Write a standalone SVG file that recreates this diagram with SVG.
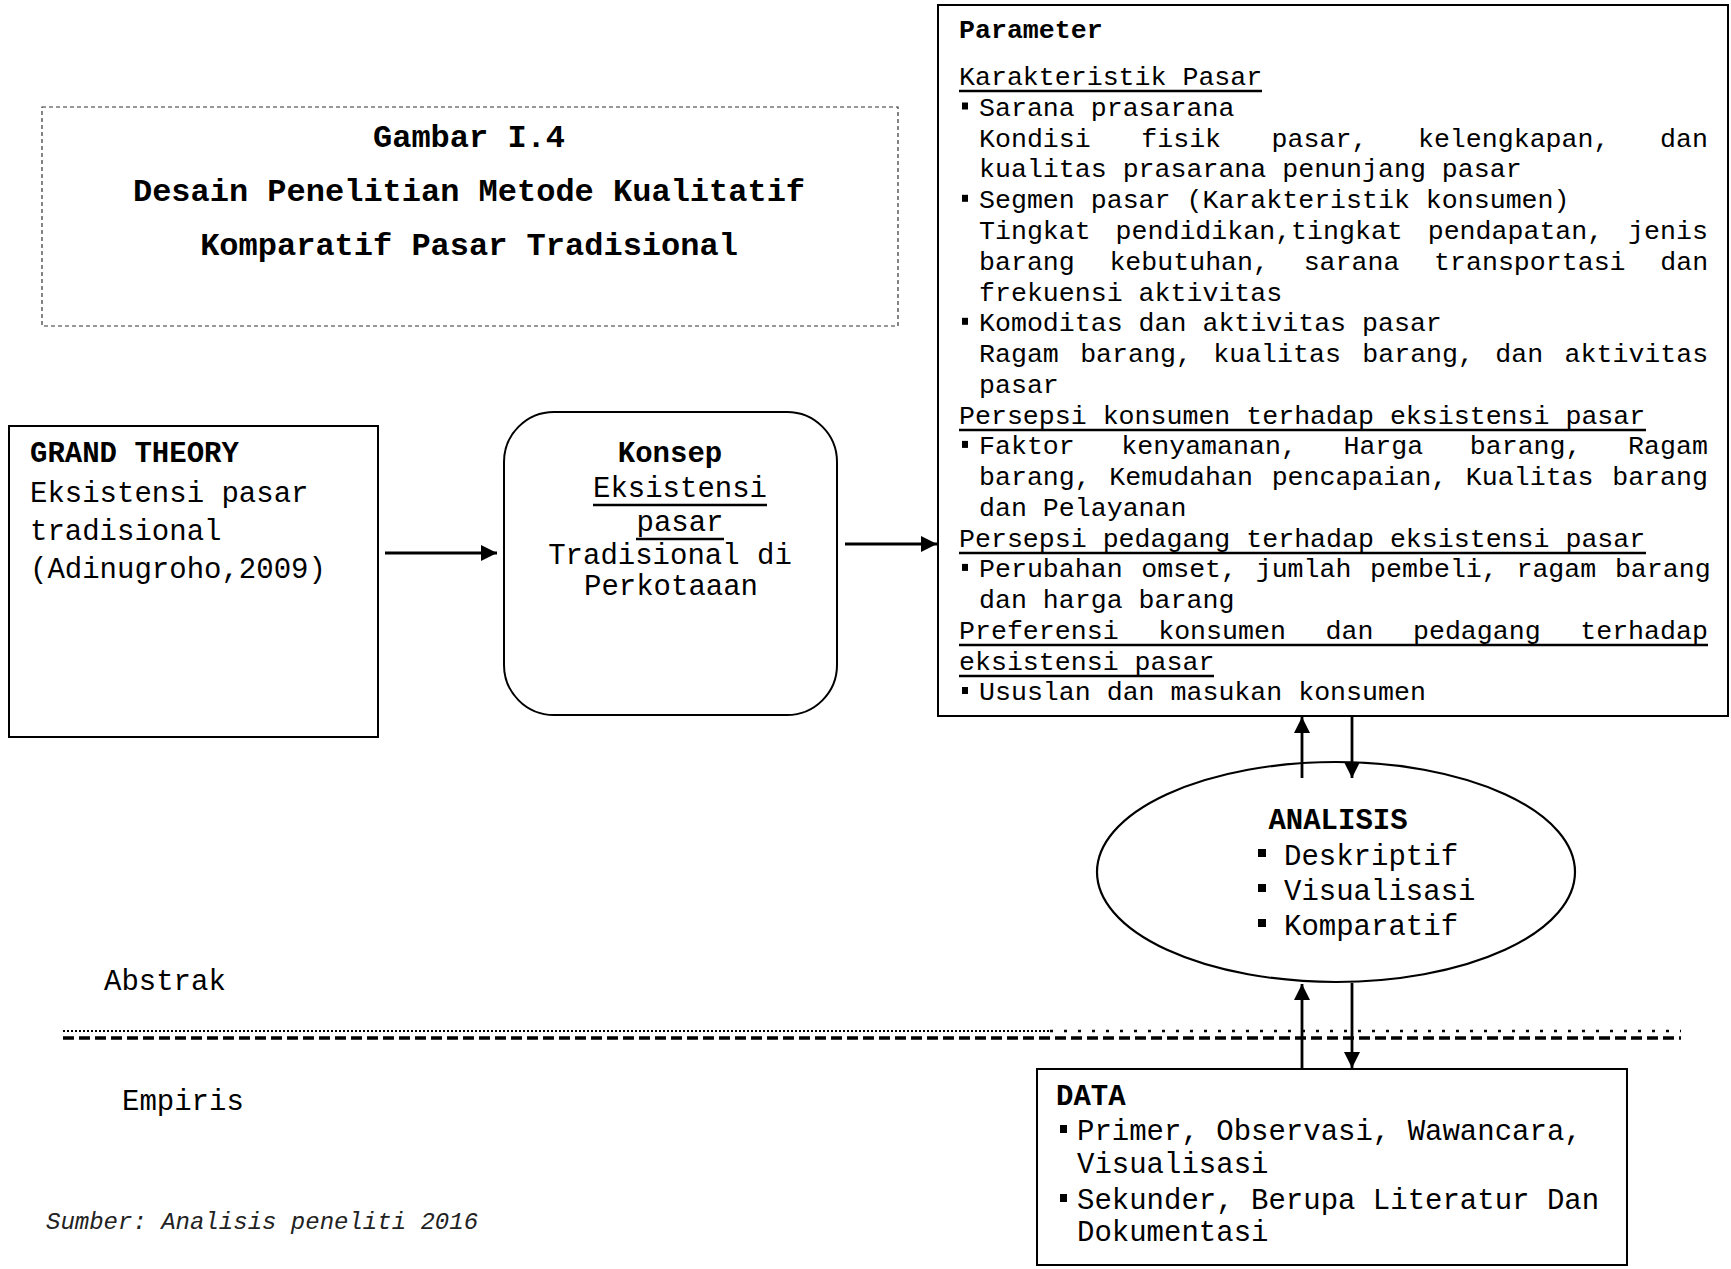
<svg xmlns="http://www.w3.org/2000/svg" width="1731" height="1269" viewBox="0 0 1731 1269">
  <style>
    text { font-family: "Liberation Mono", "Courier New", monospace; fill: #000; }
    .t32 { font-size: 32px; font-weight: bold; }
    .t29 { font-size: 29px; }
    .p { font-size: 26.6px; }
    .b { font-weight: bold; }
    .mid { text-anchor: middle; }
    .it { font-size: 24px; font-style: italic; fill: #222; }
    .box { fill: #fff; stroke: #000; stroke-width: 2; }
    .ul { stroke: #000; stroke-width: 2.5; }
    .con { stroke: #000; stroke-width: 2.8; fill: none; }
    .bul { fill: #000; }
  </style>
  <defs>
    <marker id="arrow" viewBox="0 0 16 16" refX="16" refY="8" markerWidth="16" markerHeight="16" markerUnits="userSpaceOnUse" orient="auto">
      <path d="M0,0 L16,8 L0,16 Z" fill="#000"/>
    </marker>
  </defs>

  <rect width="1731" height="1269" fill="#fff"/>

  <!-- title frame -->
  <g id="title">
    <rect x="42" y="107" width="856" height="219" fill="none" stroke="#333" stroke-width="1.2" stroke-dasharray="4 3"/>
    <text class="t32 mid" x="469" y="147">Gambar I.4</text>
    <text class="t32 mid" x="469" y="201">Desain Penelitian Metode Kualitatif</text>
    <text class="t32 mid" x="469" y="255">Komparatif Pasar Tradisional</text>
  </g>

  <!-- grand theory -->
  <g id="grand-theory">
    <rect class="box" x="9" y="426" width="369" height="311"/>
    <text class="t29 b" x="30" y="462">GRAND THEORY</text>
    <text class="t29" x="30" y="501.5">Eksistensi pasar</text>
    <text class="t29" x="30" y="539.5">tradisional</text>
    <text class="t29" x="30" y="577.5">(Adinugroho,2009)</text>
  </g>

  <!-- concept -->
  <g id="konsep">
    <rect class="box" x="504" y="412" width="333" height="303" rx="50" ry="50"/>
    <text class="t29 b mid" x="670" y="462">Konsep</text>
    <text class="t29 mid" x="680" y="497">Eksistensi</text>
    <line class="ul" x1="593" y1="505" x2="767" y2="505"/>
    <text class="t29 mid" x="680" y="531">pasar</text>
    <line class="ul" x1="636" y1="539" x2="724" y2="539"/>
    <text class="t29 mid" x="670" y="564">Tradisional di</text>
    <text class="t29 mid" x="671" y="595">Perkotaaan</text>
  </g>

  <!-- parameters -->
  <g id="parameter">
    <rect class="box" x="938" y="5" width="790" height="711"/>
    <text class="p b" x="959" y="38">Parameter</text>

    <text class="p" x="959" y="85.1">Karakteristik Pasar</text>
    <line class="ul" x1="959" y1="91" x2="1262" y2="91"/>
    <rect class="bul" x="962" y="102.5" width="6" height="7"/>
    <text class="p" x="979" y="115.9">Sarana prasarana</text>
    <text class="p" x="979" y="146.6" word-spacing="34.6">Kondisi fisik pasar, kelengkapan, dan</text>
    <text class="p" x="979" y="177.4">kualitas prasarana penunjang pasar</text>
    <rect class="bul" x="962" y="194.8" width="6" height="7"/>
    <text class="p" x="979" y="208.2">Segmen pasar (Karakteristik konsumen)</text>
    <text class="p" x="979" y="238.9" word-spacing="8.9">Tingkat pendidikan,tingkat pendapatan, jenis</text>
    <text class="p" x="979" y="269.7" word-spacing="18.7">barang kebutuhan, sarana transportasi dan</text>
    <text class="p" x="979" y="300.5">frekuensi aktivitas</text>
    <rect class="bul" x="962" y="317.8" width="6" height="7"/>
    <text class="p" x="979" y="331.2">Komoditas dan aktivitas pasar</text>
    <text class="p" x="979" y="362" word-spacing="5.4">Ragam barang, kualitas barang, dan aktivitas</text>
    <text class="p" x="979" y="392.8">pasar</text>

    <text class="p" x="959" y="423.5">Persepsi konsumen terhadap eksistensi pasar</text>
    <line class="ul" x1="959" y1="430" x2="1646" y2="430"/>
    <rect class="bul" x="962" y="440.9" width="6" height="7"/>
    <text class="p" x="979" y="454.3" word-spacing="30.6">Faktor kenyamanan, Harga barang, Ragam</text>
    <text class="p" x="979" y="485" word-spacing="2.7">barang, Kemudahan pencapaian, Kualitas barang</text>
    <text class="p" x="979" y="515.8">dan Pelayanan</text>

    <text class="p" x="959" y="546.6">Persepsi pedagang terhadap eksistensi pasar</text>
    <line class="ul" x1="959" y1="553" x2="1646" y2="553"/>
    <rect class="bul" x="962" y="563.9" width="6" height="7"/>
    <text class="p" x="979" y="577.3" word-spacing="2.7">Perubahan omset, jumlah pembeli, ragam barang</text>
    <text class="p" x="979" y="608.1">dan harga barang</text>

    <text class="p" x="959" y="638.8" word-spacing="23.65">Preferensi konsumen dan pedagang terhadap</text>
    <line class="ul" x1="959" y1="645" x2="1708" y2="645"/>
    <text class="p" x="959" y="669.6">eksistensi pasar</text>
    <line class="ul" x1="959" y1="676" x2="1214" y2="676"/>
    <rect class="bul" x="962" y="687" width="6" height="7"/>
    <text class="p" x="979" y="700.4">Ususlan dan masukan konsumen</text>
  </g>

  <!-- analysis -->
  <g id="analisis">
    <ellipse cx="1336" cy="872" rx="239" ry="110" fill="#fff" stroke="#000" stroke-width="2.2"/>
    <text class="t29 b mid" x="1338" y="829">ANALISIS</text>
    <rect class="bul" x="1258" y="849" width="8" height="8"/>
    <text class="t29" x="1284" y="864.5">Deskriptif</text>
    <rect class="bul" x="1258" y="884" width="8" height="8"/>
    <text class="t29" x="1284" y="899.5">Visualisasi</text>
    <rect class="bul" x="1258" y="919" width="8" height="8"/>
    <text class="t29" x="1284" y="934.5">Komparatif</text>
  </g>

  <!-- data sources -->
  <g id="data">
    <rect class="box" x="1037" y="1069" width="590" height="196"/>
    <text class="t29 b" x="1056" y="1105">DATA</text>
    <rect class="bul" x="1060" y="1125" width="7" height="8"/>
    <text class="t29" x="1077" y="1140">Primer, Observasi, Wawancara,</text>
    <text class="t29" x="1077" y="1173">Visualisasi</text>
    <rect class="bul" x="1060" y="1194" width="7" height="8"/>
    <text class="t29" x="1077" y="1209">Sekunder, Berupa Literatur Dan</text>
    <text class="t29" x="1077" y="1241">Dokumentasi</text>
  </g>

  <!-- abstract / empirical boundary -->
  <g id="boundary">
    <line x1="63" y1="1031" x2="1050" y2="1031" stroke="#000" stroke-width="2" stroke-dasharray="2 2"/>
    <line x1="1050" y1="1031" x2="1681" y2="1031" stroke="#000" stroke-width="2.5" stroke-dasharray="3 11"/>
    <line x1="63" y1="1038" x2="1681" y2="1038" stroke="#000" stroke-width="3.5" stroke-dasharray="11 5"/>
    <text class="t29" x="104" y="990">Abstrak</text>
    <text class="t29" x="122" y="1110">Empiris</text>
  </g>

  <text class="it" x="46" y="1229">Sumber: Analisis peneliti 2016</text>

  <!-- connectors -->
  <g id="connectors">
    <line class="con" x1="385" y1="553" x2="497" y2="553" marker-end="url(#arrow)"/>
    <line class="con" x1="845" y1="544" x2="937" y2="544" marker-end="url(#arrow)"/>
    <line class="con" x1="1302" y1="778" x2="1302" y2="717" marker-end="url(#arrow)"/>
    <line class="con" x1="1352" y1="716" x2="1352" y2="778" marker-end="url(#arrow)"/>
    <line class="con" x1="1302" y1="1069" x2="1302" y2="984" marker-end="url(#arrow)"/>
    <line class="con" x1="1352" y1="983" x2="1352" y2="1068" marker-end="url(#arrow)"/>
  </g>
</svg>
